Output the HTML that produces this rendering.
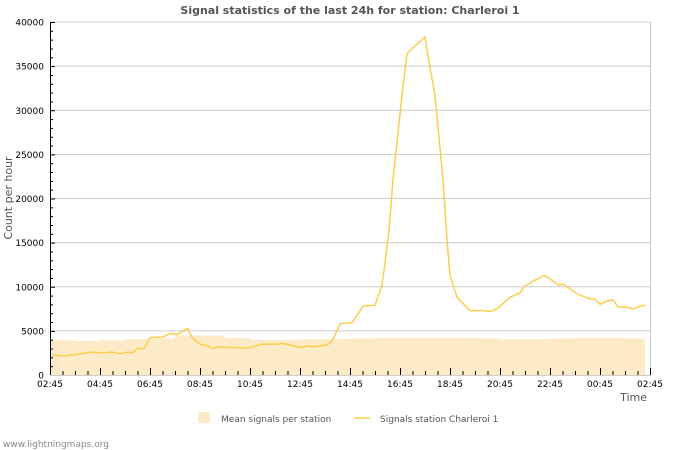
<!DOCTYPE html>
<html><head><meta charset="utf-8"><style>
html,body{margin:0;padding:0;background:#fff;}
svg{display:block;font-family:"DejaVu Sans","Liberation Sans",sans-serif;}
</style></head><body>
<svg id="chart" width="700" height="450" viewBox="0 0 700 450">
<text x="350" y="14" text-anchor="middle" font-size="11" font-weight="bold" fill="#555">Signal statistics of the last 24h for station: Charleroi 1</text>
<g id="grid"></g>
<g id="area"></g>
<g id="line"></g>
<g id="axes"></g>
<text x="12" y="198" transform="rotate(-90 12 198)" text-anchor="middle" font-size="11" fill="#555">Count per hour</text>
<text x="647" y="401" text-anchor="end" font-size="11" fill="#555">Time</text>
<g>
<rect x="198" y="412" width="12" height="11" fill="#fdebc8"/>
<text x="221" y="422" font-size="9" fill="#555">Mean signals per station</text></g>
<g>
<line x1="354" y1="418" x2="370" y2="418" stroke="#fdce4c" stroke-width="1.5"/>
<text x="380" y="422" font-size="9" fill="#555">Signals station Charleroi 1</text></g>
<text x="3" y="447" font-size="9" fill="#888">www.lightningmaps.org</text>
</svg>
<script>
const yTicks=[0,5000,10000,15000,20000,25000,30000,35000,40000];
const xLabels=["02:45","04:45","06:45","08:45","10:45","12:45","14:45","16:45","18:45","20:45","22:45","00:45","02:45"];
const lineHours=[0.07,0.6,1.1,1.7,2.1,2.5,2.8,3.1,3.3,3.5,3.76,4.0,4.5,4.8,5.1,5.5,5.7,6.0,6.3,6.5,6.8,7.3,7.6,7.8,8.1,8.5,9.1,9.3,9.6,10.0,10.3,10.5,11.1,11.3,11.6,11.9,
12.08,12.52,13.0,13.28,13.4,13.56,13.72,14.08,14.28,14.68,15.0,15.2,15.4,15.72,15.88,16.0,16.28,16.8,17.32,17.6,17.88,18.4,18.8,19.0,19.32,19.76,20.0,20.32,20.52,20.72,21.08,21.52,21.8,22.0,22.28,22.52,22.72,23.08,23.32,23.6,23.8];
const lineValues=[2270,2150,2350,2600,2500,2600,2400,2600,2500,3000,3000,4250,4300,4700,4600,5300,4200,3500,3300,3000,3200,3100,3100,3000,3200,3500,3500,3600,3400,3100,3300,3200,3400,3900,5800,5900,
5900,7800,7900,10200,12700,16400,22100,31700,36400,37500,38300,34800,31700,22100,15300,11300,8800,7300,7300,7200,7500,8800,9300,10100,10600,11300,10900,10200,10300,9900,9200,8700,8600,8000,8400,8500,7700,7700,7500,7800,7900];
const meanValues=[3950,3850,3950,4050,4150,4500,4450,4200,4000,4000,4050,4100,4150,4200,4200,4200,4200,4150,4050,4050,4150,4200,4200,4150];
const NS="http://www.w3.org/2000/svg";
const X=h=>50+h*25, Y=v=>375-v*353/40000;
function mk(t,a,p){const e=document.createElementNS(NS,t);for(const k in a)e.setAttribute(k,a[k]);p.appendChild(e);return e;}
const grid=document.getElementById('grid'),axes=document.getElementById('axes');
yTicks.forEach(v=>{
 if(v>0){const g=mk('line',{x1:50,x2:650,y1:Y(v),y2:Y(v),stroke:'#ccc','stroke-width':1},grid);
 
 }
 const t=mk('text',{x:44,y:Y(v)+3.5,'text-anchor':'end','font-size':9,fill:'#000'},axes);t.textContent=v;
 
 
});
for(let v=0;v<=40000;v+=1000){mk('line',{x1:50,x2:v%5000?53:55,y1:Y(v)+0.5,y2:Y(v)+0.5,stroke:'#000','stroke-width':1},axes);}
for(let i=0;i<=48;i++){const x=X(i/2)+0.5;mk('line',{x1:x,x2:x,y1:375,y2:i%4?371:368,stroke:'#000','stroke-width':1},axes);}
xLabels.forEach((l,i)=>{const t=mk('text',{x:X(i*2),y:387,'text-anchor':'middle','font-size':9,fill:'#000'},axes);t.textContent=l;
 
 });
mk('line',{x1:650.5,x2:650.5,y1:22,y2:375,stroke:'#ccc'},grid);
mk('line',{x1:50.5,x2:50.5,y1:22,y2:375.5,stroke:'#000'},axes);
mk('line',{x1:50,x2:651,y1:375.5,y2:375.5,stroke:'#ccc'},axes);
let d='M'+X(0)+','+Y(0);
meanValues.forEach((v,i)=>{d+=' L'+X(i)+','+Y(v)+' L'+X(Math.min(i+1,23.8))+','+Y(v);});
d+=' L'+X(23.8)+','+Y(0)+' Z';
const a=mk('path',{d:d,fill:'#fdebc8'},document.getElementById('area'));


const pts=lineHours.map((h,i)=>X(h)+','+Y(lineValues[i])).join(' ');
const pl=mk('polyline',{points:pts,fill:'none',stroke:'#fdce4c','stroke-width':1.5,'stroke-linejoin':'round'},document.getElementById('line'));


</script>
</body></html>
